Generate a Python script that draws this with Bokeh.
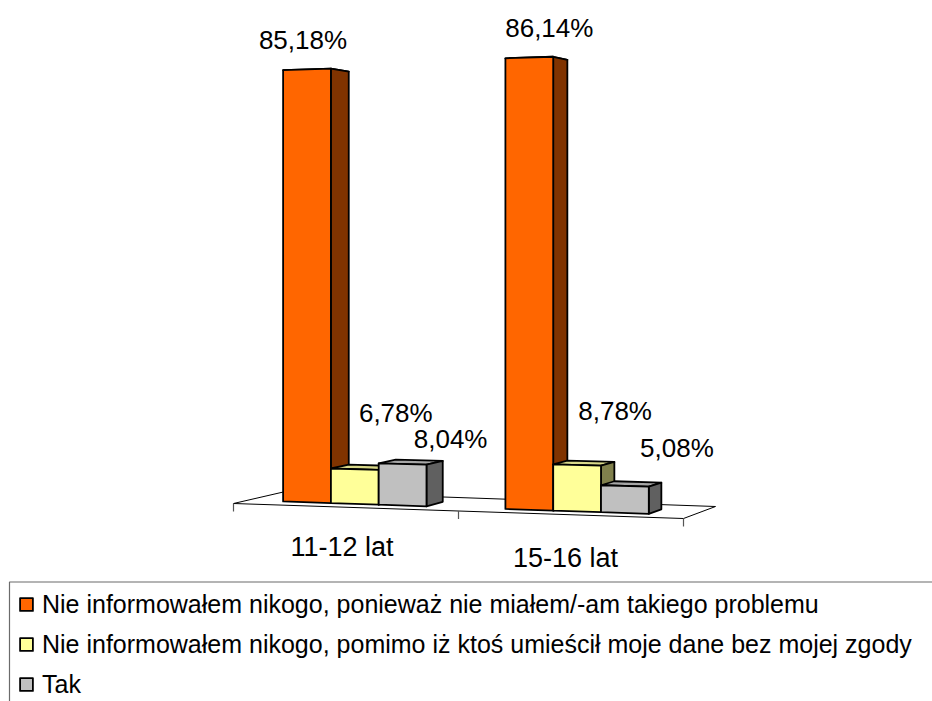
from bokeh.plotting import figure
from bokeh.models import Range1d, ColumnDataSource, Legend, LegendItem, BoxAnnotation
from bokeh.core.properties import value
from bokeh.embed import file_html
from bokeh.resources import INLINE

# ---------------- data ----------------
categories = ["11-12 lat", "15-16 lat"]
series_names = [
    "Nie informowałem nikogo, ponieważ nie miałem/-am takiego problemu",
    "Nie informowałem nikogo, pomimo iż ktoś umieścił moje dane bez mojej zgody",
    "Tak",
]
values_no_problem = [85.18, 86.14]
values_no_consent = [6.78, 8.78]
values_tak = [8.04, 5.08]
series_values = [values_no_problem, values_no_consent, values_tak]

# ---------------- styles ----------------
front_colors = ["#FF6600", "#FFFF99", "#C0C0C0"]
side_colors = ["#803300", "#80804C", "#606060"]
top_colors = ["#CC5200", "#D9D98A", "#A6A6A6"]
FONT = "Liberation Sans"

# label offsets (screen px) relative to the projected top-front centre of each bar
label_dx = [[-4, 20], [41, 38], [48, 52]]
label_dy = [[-29, -30], [-56, -54], [-25, -38]]
cat_dx = [-4, -5.5]
cat_dy = [40, 43]

# ---------------- 3D projection (perspective-like view) ----------------
W, H = 932, 701
ORIGIN_X, ORIGIN_Y = 233.0, 503.0
CAT_DX, CAT_DY = 225.0, 7.5
DEPTH_DX0, DEPTH_DX1 = 52.0, -10.0
DEPTH_DY0, DEPTH_DY1 = -12.0, 0.234
H0, H1 = 5.099, 0.169
GAP_LEFT, BAR_W = 0.16, 0.215
Z0, Z1 = 0.27, 0.64


def proj(X, Y, Z):
    x = ORIGIN_X + CAT_DX * X + Z * (DEPTH_DX0 + DEPTH_DX1 * X)
    y = ORIGIN_Y + CAT_DY * X + Z * (DEPTH_DY0 + DEPTH_DY1 * Y) - (H0 + H1 * X) * Y
    return x, y


def poly(pts):
    p = [proj(*q) for q in pts]
    return [a for a, _ in p], [b for _, b in p]


def fmt(v):
    return f"{v:.2f}".replace(".", ",") + "%"


p = figure(width=W, height=H, output_backend="svg", toolbar_location=None,
           x_range=Range1d(0, W), y_range=Range1d(H, 0),
           x_axis_location=None, y_axis_location=None, min_border=0)
p.outline_line_color = None
p.background_fill_color = "white"
p.border_fill_color = "white"
p.xgrid.visible = False
p.ygrid.visible = False

# floor
ncat = len(categories)
fx, fy = poly([(0, 0, 0), (ncat, 0, 0), (ncat, 0, 1), (0, 0, 1)])
p.patch(fx, fy, fill_color="white", line_color="black", line_width=1)

# category ticks on the front edge
tx, ty = [], []
for i in range(ncat + 1):
    x0, y0 = proj(i, 0, 0)
    tx.append([x0, x0])
    ty.append([y0, y0 + 8])
p.multi_line(tx, ty, line_color="#555555", line_width=1.2)

# bars
front_renderers = []
lab_x, lab_y, lab_t = [], [], []
for k, vals in enumerate(series_values):
    tops = {"xs": [], "ys": []}
    sides = {"xs": [], "ys": []}
    fronts = {"xs": [], "ys": []}
    for g, v in enumerate(vals):
        X0 = g + GAP_LEFT + BAR_W * k
        X1 = X0 + BAR_W
        a, b = poly([(X0, v, Z0), (X1, v, Z0), (X1, v, Z1), (X0, v, Z1)])
        tops["xs"].append(a); tops["ys"].append(b)
        a, b = poly([(X1, 0, Z0), (X1, 0, Z1), (X1, v, Z1), (X1, v, Z0)])
        sides["xs"].append(a); sides["ys"].append(b)
        a, b = poly([(X0, 0, Z0), (X1, 0, Z0), (X1, v, Z0), (X0, v, Z0)])
        fronts["xs"].append(a); fronts["ys"].append(b)
        cx, cy = proj((X0 + X1) / 2, v, Z0)
        lab_x.append(cx + label_dx[k][g])
        lab_y.append(cy + label_dy[k][g])
        lab_t.append(fmt(v))
    p.patches("xs", "ys", source=ColumnDataSource(tops), fill_color=top_colors[k],
              line_color="black", line_width=1.8, line_join="round")
    p.patches("xs", "ys", source=ColumnDataSource(sides), fill_color=side_colors[k],
              line_color="black", line_width=1.8, line_join="round")
    r = p.patches("xs", "ys", source=ColumnDataSource(fronts), fill_color=front_colors[k],
                  line_color="black", line_width=1.8, line_join="round")
    front_renderers.append(r)

# value labels
p.text(x=lab_x, y=lab_y, text=lab_t, text_align="center", text_baseline="alphabetic",
       text_font=value(FONT), text_font_size="26px", text_color="black")

# category labels
cx_list, cy_list = [], []
for i, c in enumerate(categories):
    x0, y0 = proj(i + 0.5, 0, 0)
    cx_list.append(x0 + cat_dx[i])
    cy_list.append(y0 + cat_dy[i])
p.text(x=cx_list, y=cy_list, text=categories, text_align="center", text_baseline="alphabetic",
       text_font=value(FONT), text_font_size="27px", text_color="black")

# legend frame
p.add_layout(BoxAnnotation(left=9, right=2000, top=581.5, bottom=2000,
                           fill_alpha=0, line_color="#6b6b6b", line_width=1.2, line_alpha=1))

legend = Legend(items=[LegendItem(label=n, renderers=[r]) for n, r in zip(series_names, front_renderers)],
                location=(18, 2.5), orientation="vertical",
                glyph_width=16, glyph_height=16, label_height=29, label_standoff=8,
                spacing=11, padding=0, margin=0,
                border_line_color=None, background_fill_alpha=0,
                label_text_font=FONT, label_text_font_size="25px", label_text_color="black")
p.add_layout(legend, "center")

open("out.html", "w").write(file_html(p, INLINE))
